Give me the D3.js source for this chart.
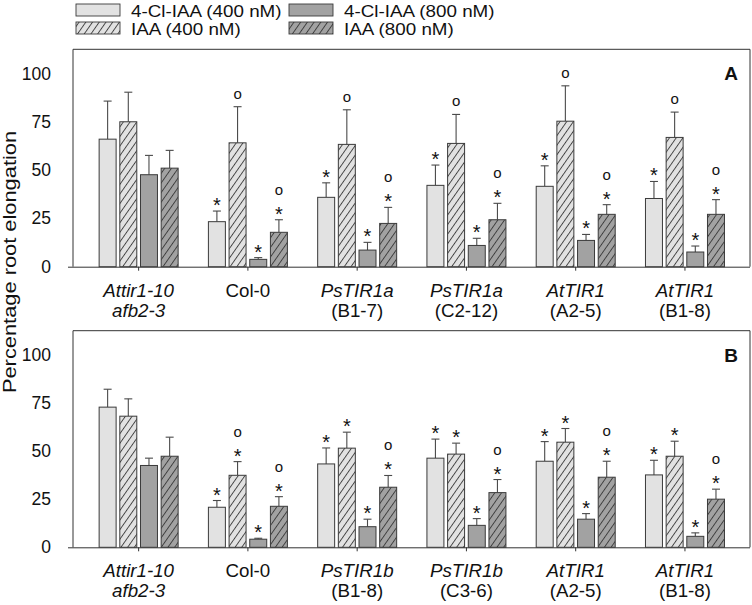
<!DOCTYPE html>
<html><head><meta charset="utf-8">
<script src="https://cdn.jsdelivr.net/npm/d3@7"></script>
<style>
body{margin:0;background:#fff}
svg{display:block}
text{font-family:"Liberation Sans",Arial,Helvetica,sans-serif;fill:#111}
</style>
</head><body>
<svg id="chart" width="752" height="605"></svg>
<script>
// ---------- DATA ----------
const seriesNames = ["4-Cl-IAA (400 nM)", "IAA (400 nM)", "4-Cl-IAA (800 nM)", "IAA (800 nM)"];
const yTicks = [0, 25, 50, 75, 100];

// Panel A
const groupsA = ["Attir1-10 afb2-3", "Col-0", "PsTIR1a (B1-7)", "PsTIR1a (C2-12)", "AtTIR1 (A2-5)", "AtTIR1 (B1-8)"];
const labelTopA = ["Attir1-10", "Col-0", "PsTIR1a", "PsTIR1a", "AtTIR1", "AtTIR1"];
const labelBottomA = ["afb2-3", "", "(B1-7)", "(C2-12)", "(A2-5)", "(B1-8)"];
const clIAA400A = [66.0, 23.3, 35.9, 42.1, 41.6, 35.3];
const clIAA400ErrA = [19.7, 5.5, 7.5, 10.5, 10.6, 8.8];
const iaa400A = [75.0, 64.1, 63.3, 63.8, 75.3, 66.9];
const iaa400ErrA = [15.3, 18.7, 17.9, 15.0, 18.3, 13.1];
const clIAA800A = [47.6, 3.8, 8.6, 11.0, 13.6, 7.6];
const clIAA800ErrA = [10.0, 0.9, 4.0, 3.7, 3.1, 3.1];
const iaa800A = [51.0, 17.8, 22.4, 24.3, 27.1, 27.1];
const iaa800ErrA = [9.2, 6.5, 8.3, 8.5, 5.0, 7.6];
// significance marks: "*" star, "o" circle, "*o" both
const marksA = [
  ["", "", "", ""],
  ["*", "o", "*", "*o"],
  ["*", "o", "*", "*o"],
  ["*", "o", "*", "*o"],
  ["*", "o", "*", "*o"],
  ["*", "o", "*", "*o"]
];

// Panel B
const groupsB = ["Attir1-10 afb2-3", "Col-0", "PsTIR1b (B1-8)", "PsTIR1b (C3-6)", "AtTIR1 (A2-5)", "AtTIR1 (B1-8)"];
const labelTopB = ["Attir1-10", "Col-0", "PsTIR1b", "PsTIR1b", "AtTIR1", "AtTIR1"];
const labelBottomB = ["afb2-3", "", "(B1-8)", "(C3-6)", "(A2-5)", "(B1-8)"];
const clIAA400B = [72.8, 20.8, 43.3, 46.3, 44.7, 37.6];
const clIAA400ErrB = [9.3, 3.5, 8.3, 9.9, 10.2, 7.6];
const iaa400B = [68.1, 37.4, 51.5, 48.4, 54.6, 47.3];
const iaa400ErrB = [9.0, 7.1, 8.3, 5.7, 7.1, 7.8];
const clIAA800B = [42.5, 4.2, 10.7, 11.4, 14.6, 5.7];
const clIAA800ErrB = [3.8, 0.5, 3.9, 3.5, 2.9, 1.8];
const iaa800B = [47.3, 21.3, 31.2, 28.4, 36.4, 25.0];
const iaa800ErrB = [9.9, 5.0, 6.1, 6.8, 8.3, 5.2];
const marksB = [
  ["", "", "", ""],
  ["*", "*o", "*", "*o"],
  ["*", "*", "*", "*o"],
  ["*", "*", "*", "*o"],
  ["*", "*", "*", "*o"],
  ["*", "*", "*", "*o"]
];

// ---------- STYLE ----------
const lightFill = "#e2e2e2", darkFill = "#a2a2a2", strokeC = "#3a3a3a";
const seriesStyle = [
  {fill: lightFill, hatch: false},
  {fill: lightFill, hatch: true},
  {fill: darkFill, hatch: false},
  {fill: darkFill, hatch: true}
];

const svg = d3.select("#chart");
const defs = svg.append("defs");
function makeHatch(id, bg) {
  const p = defs.append("pattern").attr("id", id).attr("patternUnits", "userSpaceOnUse")
    .attr("width", 5.5).attr("height", 12).attr("patternTransform", "rotate(35)");
  p.append("rect").attr("width", 5.5).attr("height", 12).attr("fill", bg);
  p.append("line").attr("x1", 0.5).attr("y1", 0).attr("x2", 0.5).attr("y2", 12)
    .attr("stroke", "#333").attr("stroke-width", 0.9);
}
makeHatch("hatchLight", lightFill);
makeHatch("hatchDark", darkFill);
function fillOf(i) {
  const s = seriesStyle[i];
  if (!s.hatch) return s.fill;
  return s.fill === lightFill ? "url(#hatchLight)" : "url(#hatchDark)";
}

function stretch(sel, k) {
  sel.each(function () {
    const L = this.getComputedTextLength();
    if (L > 0) {
      this.setAttribute("textLength", L * k);
      this.setAttribute("lengthAdjust", "spacingAndGlyphs");
    }
  });
}

// ---------- LEGEND ----------
const legendPos = [
  {x: 76, y: 4}, {x: 76, y: 22}, {x: 289, y: 4}, {x: 289, y: 22}
];
const leg = svg.append("g");
seriesNames.forEach((name, i) => {
  const p = legendPos[i];
  leg.append("rect").attr("x", p.x).attr("y", p.y).attr("width", 44).attr("height", 12)
    .attr("fill", fillOf(i)).attr("stroke", strokeC).attr("stroke-width", 0.9);
  const t = leg.append("text").attr("x", p.x + 55).attr("y", p.y + 13)
    .attr("font-size", 16.5).text(name);
  stretch(t, 1.14);
});

// ---------- PANELS ----------
const frameLeft = 73, frameRight = 750;

function drawPanel(cfg) {
  const {top, bottom, groups, labelTop, labelBottom, values, errors, marks, letter} = cfg;
  const g = svg.append("g");
  const y = d3.scaleLinear().domain([0, 112.5]).range([bottom, top]);
  const x0 = d3.scaleBand().domain(groups).range([84, 739.6]);
  const x1 = d3.scaleBand().domain(d3.range(4)).range([-40, 40]).paddingInner(0.13);
  const cx = gname => x0(gname) + x0.bandwidth() / 2;

  // frame
  g.append("path")
    .attr("d", `M${frameLeft},${bottom}V${top}H${frameRight}V${bottom}`)
    .attr("fill", "none").attr("stroke", "#333").attr("stroke-width", 1);

  // x axis
  const xAxis = d3.axisBottom(x0).tickSize(4).tickFormat("");
  const ax = g.append("g").attr("transform", `translate(0,${bottom})`).call(xAxis);
  ax.select(".domain").attr("d", `M68,0.5H${frameRight}`).attr("stroke", "#333");
  ax.selectAll(".tick line").attr("stroke", "#333");

  // y tick labels
  const yAxis = d3.axisLeft(y).tickValues(yTicks).tickSize(0).tickPadding(0);
  const ay = g.append("g").attr("transform", `translate(51,0)`).call(yAxis);
  ay.select(".domain").remove();
  ay.selectAll("text").attr("font-size", 17.5).attr("fill", "#111")
    .attr("font-family", '"Liberation Sans",Arial,sans-serif');

  // bars
  const data = [];
  groups.forEach((gn, gi) => {
    for (let s = 0; s < 4; s++) {
      data.push({g: gn, gi, s, v: values[s][gi], e: errors[s][gi], m: marks[gi][s]});
    }
  });
  const bx = d => cx(d.g) + x1(d.s);
  const bw = x1.bandwidth();

  // error bars (behind bars)
  g.selectAll(".err").data(data).join("line")
    .attr("x1", d => bx(d) + bw / 2).attr("x2", d => bx(d) + bw / 2)
    .attr("y1", d => y(d.v)).attr("y2", d => y(d.v + d.e))
    .attr("stroke", "#4a4a4a").attr("stroke-width", 1.1);
  g.selectAll(".cap").data(data).join("line")
    .attr("x1", d => bx(d) + bw / 2 - 4).attr("x2", d => bx(d) + bw / 2 + 4)
    .attr("y1", d => y(d.v + d.e)).attr("y2", d => y(d.v + d.e))
    .attr("stroke", "#4a4a4a").attr("stroke-width", 1.1);

  g.selectAll(".bar").data(data).join("rect")
    .attr("x", d => bx(d) + 0.5).attr("width", bw - 1)
    .attr("y", d => y(d.v)).attr("height", d => y(0) - y(d.v))
    .attr("fill", d => fillOf(d.s)).attr("stroke", strokeC).attr("stroke-width", 1);

  // significance marks
  data.forEach(d => {
    const capY = y(d.v + d.e);
    const mx = bx(d) + bw / 2;
    if (d.m.includes("*")) {
      g.append("text").attr("x", mx).attr("y", capY + 1).attr("text-anchor", "middle")
        .attr("font-size", 20).text("*");
      if (d.m.includes("o")) {
        g.append("text").attr("x", mx).attr("y", capY - 25).attr("text-anchor", "middle")
          .attr("font-size", 15).text("o");
      }
    } else if (d.m === "o") {
      g.append("text").attr("x", mx).attr("y", capY - 8).attr("text-anchor", "middle")
        .attr("font-size", 15).text("o");
    }
  });

  // group labels
  groups.forEach((gn, gi) => {
    const t1 = g.append("text").attr("x", cx(gn)).attr("y", bottom + 30)
      .attr("text-anchor", "middle").attr("font-size", 18)
      .attr("font-style", labelTop[gi] === "Col-0" ? "normal" : "italic").text(labelTop[gi]);
    stretch(t1, 1.04);
    if (labelBottom[gi]) {
      const t2 = g.append("text").attr("x", cx(gn)).attr("y", bottom + 50)
        .attr("text-anchor", "middle").attr("font-size", 18)
        .attr("font-style", labelBottom[gi].startsWith("(") ? "normal" : "italic").text(labelBottom[gi]);
      stretch(t2, 1.04);
    }
  });

  // panel letter
  g.append("text").attr("x", 738).attr("y", top + 31).attr("text-anchor", "end")
    .attr("font-size", 19).attr("font-weight", "bold").text(letter);
}

drawPanel({
  top: 49.3, bottom: 266.7, groups: groupsA, labelTop: labelTopA, labelBottom: labelBottomA,
  values: [clIAA400A, iaa400A, clIAA800A, iaa800A],
  errors: [clIAA400ErrA, iaa400ErrA, clIAA800ErrA, iaa800ErrA],
  marks: marksA, letter: "A"
});
drawPanel({
  top: 330.7, bottom: 547.3, groups: groupsB, labelTop: labelTopB, labelBottom: labelBottomB,
  values: [clIAA400B, iaa400B, clIAA800B, iaa800B],
  errors: [clIAA400ErrB, iaa400ErrB, clIAA800ErrB, iaa800ErrB],
  marks: marksB, letter: "B"
});

// y-axis title
const yt = svg.append("text").attr("transform", "translate(16,262) rotate(-90)")
  .attr("text-anchor", "middle").attr("font-size", 18.5).text("Percentage root elongation");
stretch(yt, 1.18);
</script>
</body></html>
